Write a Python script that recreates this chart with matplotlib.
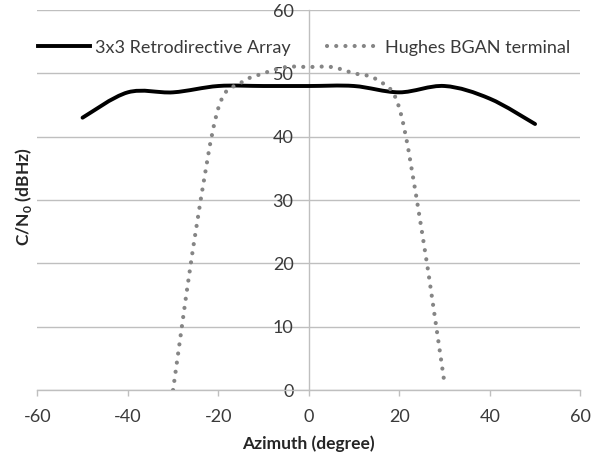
#### C/N0 versus azimuth: retrodirective array vs BGAN terminal
import numpy as np
import matplotlib.pyplot as plt
from matplotlib.path import Path
from matplotlib.patches import PathPatch
from matplotlib.lines import Line2D

plt.rcParams['font.family'] = ['Lato', 'DejaVu Sans']
plt.rcParams['axes.unicode_minus'] = False

array_az = [-50, -40, -30, -20, -10, 0, 10, 20, 30, 40, 50]
array_cn0 = [43, 47, 47, 48, 48, 48, 48, 47, 48, 46, 42]
bgan_az = [-30, -25, -20, -15, -10, -5, 0, 5, 10, 15, 20, 25, 30]
bgan_cn0 = [0, 25, 44.5, 48.5, 50, 51, 51, 51, 50, 49, 44.5, 25, 1]
xticks = [-60, -40, -20, 0, 20, 40, 60]
yticks = [0, 10, 20, 30, 40, 50, 60]

grid_col = '#BFBFBF'
text_col = '#3A3A3A'


def smooth_path(x, y):
    # excel-like smoothed line (catmull-rom as bezier curves)
    pts = np.column_stack([x, y]).astype(float)
    ext = np.vstack([pts[0], pts, pts[-1]])
    verts = [pts[0]]
    codes = [Path.MOVETO]
    for i in range(len(pts) - 1):
        p0, p1, p2, p3 = ext[i], ext[i + 1], ext[i + 2], ext[i + 3]
        verts += [p1 + (p2 - p0) / 6, p2 - (p3 - p1) / 6, p2]
        codes += [Path.CURVE4] * 3
    return Path(verts, codes)


fig = plt.figure(figsize=(5.93, 4.59), dpi=100)
ax = fig.add_axes([0.0629, 0.1503, 0.9157, 0.8279])

ax.set_xlim(-60, 60)
ax.set_ylim(0, 60)
ax.set_xticks(xticks)
ax.set_yticks(yticks)

solid_lw = 2.8
dot_lw = 3.0
dot_style = (0, (0.01, 2.2))

ax.add_patch(PathPatch(smooth_path(array_az, array_cn0), fill=False,
                       edgecolor='black', lw=solid_lw, capstyle='round',
                       joinstyle='round', zorder=3))
ax.add_patch(PathPatch(smooth_path(bgan_az, bgan_cn0), fill=False,
                       edgecolor='#858585', lw=dot_lw, linestyle=dot_style,
                       capstyle='round', zorder=4))

# axes styling
for s in ['top', 'right']:
    ax.spines[s].set_visible(False)
ax.spines['left'].set_position(('data', 0))
ax.spines['left'].set_color(grid_col)
ax.spines['bottom'].set_color(grid_col)
ax.spines['left'].set_linewidth(1)
ax.spines['bottom'].set_linewidth(1)
ax.yaxis.grid(True, color=grid_col, lw=1)
ax.set_axisbelow(True)
ax.tick_params(axis='y', length=0, pad=11, labelsize=13, labelcolor=text_col)
ax.tick_params(axis='x', length=4.5, width=1, color=grid_col, pad=9,
               labelsize=13, labelcolor=text_col, direction='out')

ax.set_xlabel('Azimuth (degree)', fontsize=12.5, fontweight='bold',
              color='#262626', labelpad=8)
fig.text(23 / 593, 1 - 197 / 459, 'C/N$_\\mathregular{0}$ (dBHz)', rotation=90,
         ha='center', va='center', fontsize=12.5, fontweight='bold', color='#262626')

handles = [Line2D([], [], color='black', lw=solid_lw),
           Line2D([], [], color='#858585', lw=dot_lw, linestyle=dot_style,
                  dash_capstyle='round')]
ax.legend(handles, ['3x3 Retrodirective Array', 'Hughes BGAN terminal'],
          loc='center', bbox_to_anchor=(0.491, 0.901), ncol=2, frameon=False,
          fontsize=13, handlelength=2.9, handletextpad=0.3, columnspacing=2.0,
          labelcolor=text_col)

plt.savefig('out.png', dpi=100)
